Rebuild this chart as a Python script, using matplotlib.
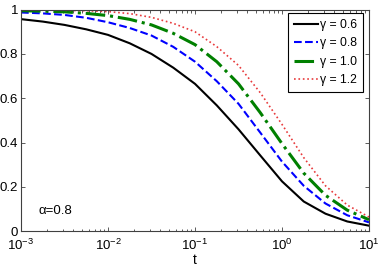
import numpy as np
import matplotlib
matplotlib.use("Agg")
import matplotlib.pyplot as plt
from matplotlib.ticker import LogLocator, NullFormatter

plt.rcParams['font.family'] = ['Liberation Sans', 'DejaVu Sans']
plt.rcParams['mathtext.fontset'] = 'custom'
plt.rcParams['mathtext.rm'] = 'Liberation Sans'
plt.rcParams['mathtext.it'] = 'Liberation Sans:italic'

# t sample points: quarter-decade steps from 1e-3 to 1e1 (log10 exponents)
log_t = [-3.0, -2.75, -2.5, -2.25, -2.0, -1.75, -1.5, -1.25, -1.0,
         -0.75, -0.5, -0.25, 0.0, 0.25, 0.5, 0.75, 1.0]

g06 = [0.957, 0.946, 0.931, 0.911, 0.886, 0.848, 0.800, 0.738, 0.665,
       0.568, 0.460, 0.342, 0.225, 0.134, 0.079, 0.044, 0.025]
g08 = [0.987, 0.983, 0.976, 0.963, 0.943, 0.917, 0.883, 0.832, 0.765,
       0.677, 0.575, 0.445, 0.314, 0.205, 0.125, 0.072, 0.040]
g10 = [0.995, 0.993, 0.990, 0.983, 0.973, 0.956, 0.931, 0.893, 0.842,
       0.765, 0.665, 0.535, 0.395, 0.262, 0.162, 0.095, 0.052]
g12 = [0.999, 0.998, 0.997, 0.995, 0.991, 0.982, 0.965, 0.938, 0.900,
       0.833, 0.748, 0.625, 0.482, 0.332, 0.205, 0.118, 0.064]

labels = ['γ = 0.6', 'γ = 0.8', 'γ = 1.0', 'γ = 1.2']
series = [g06, g08, g10, g12]
colors = ['black', 'blue', 'green', '#e8393b']
styles = ['-', '--', '-.', ':']
widths = [1.5, 1.5, 2.2, 1.2]

t = [10.0 ** e for e in log_t]

fig = plt.figure(figsize=(3.82, 2.67), dpi=100)
ax = fig.add_axes([0.055, 0.134, 0.911, 0.830])

for y, lab, c, ls, lw in zip(series, labels, colors, styles, widths):
    ax.plot(t, y, linestyle=ls, color=c, lw=lw, label=lab)

ax.set_xscale('log')
ax.set_xlim(1e-3, 1e1)
ax.set_ylim(0, 1)
ax.set_yticks([0, 0.2, 0.4, 0.6, 0.8, 1.0])
ax.set_yticklabels(['0', '0.2', '0.4', '0.6', '0.8', '1'])
ax.xaxis.set_major_locator(LogLocator(base=10, numticks=10))
ax.xaxis.set_minor_locator(LogLocator(base=10, subs=np.arange(2, 10), numticks=20))
ax.xaxis.set_minor_formatter(NullFormatter())
ax.tick_params(which='both', direction='in', top=True, right=True, labelsize=9.5,
               pad=2, width=0.6, colors='#404040', labelcolor='black')
ax.tick_params(axis='x', which='major', pad=4.5)
ax.tick_params(which='major', length=3)
ax.tick_params(which='minor', length=1.8)
for lab in ax.get_yticklabels():
    lab.set_verticalalignment('center_baseline')
for s in ax.spines.values():
    s.set_linewidth(0.8)
    s.set_color('#404040')

ax.set_xlabel('t', fontsize=10, labelpad=0)
ax.text(0.0016, 0.093, 'α=0.8', fontsize=9.5, va='center', ha='left')

leg = ax.legend(loc='upper right', fontsize=8.8, handlelength=2.0, handletextpad=0.15,
                borderpad=0.5, labelspacing=0.52, fancybox=False, framealpha=1,
                bbox_to_anchor=(363 / 382, 1 - 13 / 267),
                bbox_transform=fig.transFigure, borderaxespad=0)
leg.get_frame().set_edgecolor('black')
leg.get_frame().set_linewidth(0.8)

fig.savefig('out.png', dpi=100)
